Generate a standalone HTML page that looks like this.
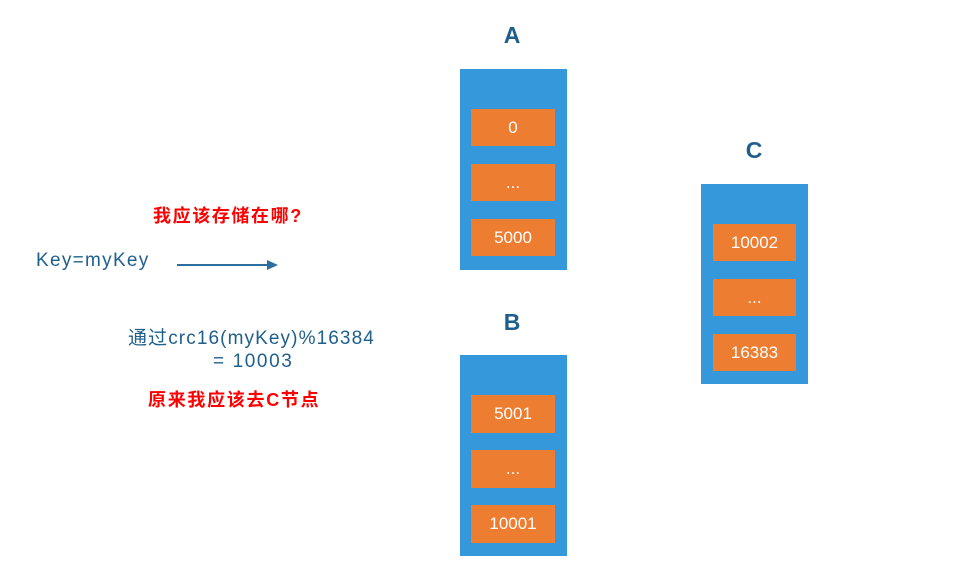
<!DOCTYPE html>
<html><head><meta charset="utf-8"><style>
body{margin:0;width:962px;height:577px;background:#fff;position:relative;overflow:hidden;font-family:"Liberation Sans","Noto Sans CJK SC",sans-serif}
.a{position:absolute}
.box{position:absolute;background:#3498db}
.s{position:absolute;background:#ed7d31;color:#fff;font-size:17px;text-align:center;line-height:37px}
.lbl{position:absolute;color:#1f5f8b;font-weight:bold;font-size:23px;width:60px;text-align:center}
.red{position:absolute;color:#ff0000;font-weight:bold;font-size:18px;white-space:nowrap}
.blue{position:absolute;color:#1f5f8b;font-size:19px;white-space:nowrap}
</style></head><body>
<div class="lbl" style="left:482px;top:22px">A</div>
<div class="lbl" style="left:482px;top:309px">B</div>
<div class="lbl" style="left:724px;top:137px">C</div>

<div class="box" style="left:460px;top:69px;width:107px;height:201px"></div>
<div class="s" style="left:471px;top:109px;width:84px;height:37px">0</div>
<div class="s" style="left:471px;top:164px;width:84px;height:37px">...</div>
<div class="s" style="left:471px;top:219px;width:84px;height:37px">5000</div>

<div class="box" style="left:460px;top:355px;width:107px;height:201px"></div>
<div class="s" style="left:471px;top:395px;width:84px;height:38px">5001</div>
<div class="s" style="left:471px;top:450px;width:84px;height:38px">...</div>
<div class="s" style="left:471px;top:505px;width:84px;height:38px">10001</div>

<div class="box" style="left:701px;top:184px;width:107px;height:200px"></div>
<div class="s" style="left:713px;top:224px;width:83px;height:37px">10002</div>
<div class="s" style="left:713px;top:279px;width:83px;height:37px">...</div>
<div class="s" style="left:713px;top:334px;width:83px;height:37px">16383</div>

<div class="red" style="left:153px;top:202px;letter-spacing:1.6px">我应该存储在哪?</div>
<div class="blue" style="left:36px;top:250px;letter-spacing:1.3px">Key=myKey</div>
<svg class="a" style="left:170px;top:255px" width="115" height="20">
<line x1="7" y1="10" x2="100" y2="10" stroke="#2e6e9e" stroke-width="2"/>
<polygon points="108,10 97,5 97,15" fill="#2e6e9e"/>
</svg>
<div class="blue" style="left:128px;top:323px;letter-spacing:1.1px">通过crc16(myKey)%16384</div>
<div class="blue" style="left:213px;top:351px;letter-spacing:1.6px">= 10003</div>
<div class="red" style="left:148px;top:386px;letter-spacing:1.7px">原来我应该去C节点</div>
</body></html>
